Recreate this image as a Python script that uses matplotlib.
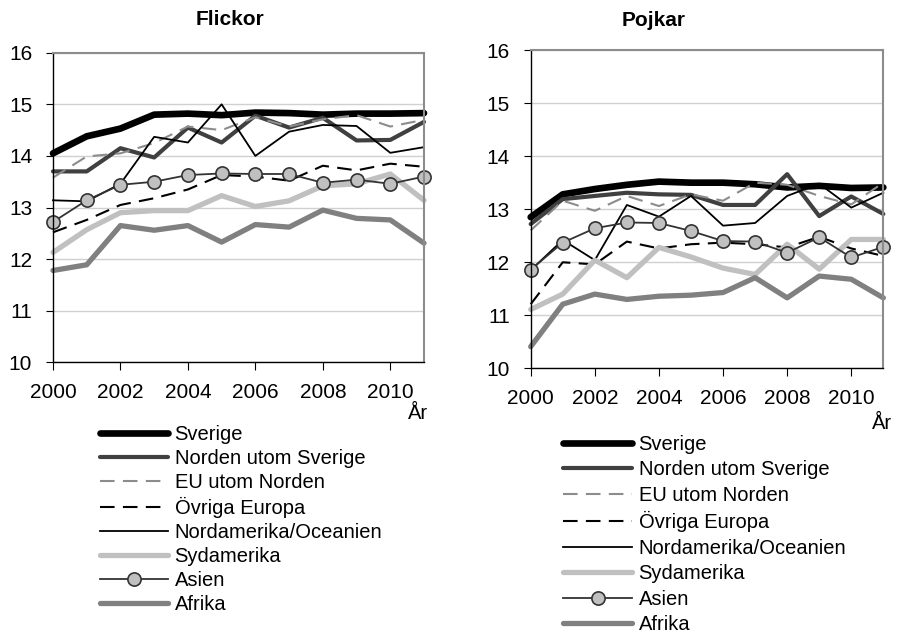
import numpy as np
import matplotlib
matplotlib.use("Agg")
import matplotlib.pyplot as plt

plt.rcParams['font.family'] = ['Liberation Sans', 'DejaVu Sans']

years = np.arange(2000, 2012)
series_names = ["Sverige", "Norden utom Sverige", "EU utom Norden", "Övriga Europa",
                "Nordamerika/Oceanien", "Sydamerika", "Asien", "Afrika"]

# Flickor
flickor_sverige = [14.05, 14.38, 14.53, 14.80, 14.82, 14.79, 14.84, 14.83, 14.80, 14.82, 14.82, 14.83]
flickor_norden = [13.70, 13.70, 14.15, 13.97, 14.55, 14.26, 14.78, 14.55, 14.74, 14.30, 14.31, 14.66]
flickor_eu = [13.58, 13.99, 14.05, 14.25, 14.57, 14.50, 14.75, 14.57, 14.71, 14.79, 14.57, 14.70]
flickor_ovriga = [12.52, 12.76, 13.05, 13.18, 13.35, 13.63, 13.60, 13.52, 13.81, 13.72, 13.85, 13.79]
flickor_nordam = [13.14, 13.12, 13.46, 14.37, 14.26, 15.00, 14.00, 14.47, 14.60, 14.58, 14.06, 14.17]
flickor_sydam = [12.13, 12.57, 12.90, 12.94, 12.94, 13.23, 13.02, 13.13, 13.42, 13.46, 13.65, 13.14]
flickor_asien = [12.72, 13.14, 13.44, 13.50, 13.63, 13.66, 13.65, 13.65, 13.48, 13.54, 13.46, 13.60]
flickor_afrika = [11.78, 11.89, 12.65, 12.56, 12.65, 12.33, 12.67, 12.62, 12.95, 12.79, 12.76, 12.31]

# Pojkar
pojkar_sverige = [12.85, 13.28, 13.38, 13.46, 13.52, 13.50, 13.50, 13.47, 13.41, 13.44, 13.40, 13.41]
pojkar_norden = [12.72, 13.19, 13.25, 13.31, 13.28, 13.27, 13.08, 13.08, 13.66, 12.87, 13.24, 12.91]
pojkar_eu = [12.60, 13.16, 12.97, 13.25, 13.06, 13.28, 13.16, 13.50, 13.46, 13.25, 13.09, 13.50]
pojkar_ovriga = [11.21, 12.00, 11.96, 12.39, 12.26, 12.34, 12.37, 12.34, 12.28, 12.48, 12.26, 12.12]
pojkar_nordam = [11.85, 12.42, 12.04, 13.08, 12.86, 13.25, 12.69, 12.74, 13.25, 13.48, 13.03, 13.31]
pojkar_sydam = [11.11, 11.40, 12.04, 11.71, 12.28, 12.10, 11.89, 11.77, 12.34, 11.87, 12.43, 12.43]
pojkar_asien = [11.86, 12.37, 12.64, 12.75, 12.74, 12.59, 12.40, 12.39, 12.18, 12.47, 12.09, 12.29]
pojkar_afrika = [10.41, 11.21, 11.40, 11.30, 11.36, 11.38, 11.43, 11.71, 11.33, 11.74, 11.68, 11.33]

flickor = [flickor_sverige, flickor_norden, flickor_eu, flickor_ovriga,
           flickor_nordam, flickor_sydam, flickor_asien, flickor_afrika]
pojkar = [pojkar_sverige, pojkar_norden, pojkar_eu, pojkar_ovriga,
          pojkar_nordam, pojkar_sydam, pojkar_asien, pojkar_afrika]

styles = [
    dict(color="black", lw=4.8, solid_capstyle="round"),
    dict(color="#404040", lw=3.0, solid_capstyle="round"),
    dict(color="#8c8c8c", lw=1.5, dashes=(7, 4)),
    dict(color="black", lw=1.5, dashes=(7, 4)),
    dict(color="black", lw=1.3),
    dict(color="#c0c0c0", lw=3.8, solid_capstyle="round"),
    dict(color="#333333", lw=1.3, marker="o", markersize=9.5,
         markerfacecolor="#c0c0c0", markeredgecolor="#333333", markeredgewidth=1.2),
    dict(color="#808080", lw=3.8, solid_capstyle="round"),
]


def draw_panel(ax, data, title, title_xy, ar_xy, leg_anchor, leg_spacing, handle_len):
    for values, name, st in zip(data, series_names, styles):
        ax.plot(years, values, label=name, clip_on=False, **st)
    ax.set_xlim(2000, 2011)
    ax.set_ylim(10, 16)
    ax.set_xticks(range(2000, 2011, 2))
    ax.set_yticks(range(10, 17))
    ax.yaxis.grid(True, color="#d0d0d0", lw=1.0)
    ax.set_axisbelow(True)
    for s in ["top", "right"]:
        ax.spines[s].set_color("#8c8c8c")
        ax.spines[s].set_linewidth(1.5)
    ax.spines["left"].set_linewidth(1.0)
    ax.spines["bottom"].set_linewidth(1.0)
    ax.tick_params(axis="y", direction="out", length=5, pad=10, labelsize=15)
    ax.tick_params(axis="x", direction="out", length=6, pad=9, labelsize=15)
    fig.text(title_xy[0], title_xy[1], title, ha="center", va="center", fontsize=15, fontweight="bold")
    fig.text(ar_xy[0], ar_xy[1], "År", ha="center", va="center", fontsize=14.5)
    ax.legend(loc="upper left", bbox_to_anchor=leg_anchor, bbox_transform=fig.transFigure,
              frameon=False, fontsize=14.5, handlelength=handle_len, handletextpad=0.3,
              labelspacing=leg_spacing, borderpad=0, borderaxespad=0)


fig = plt.figure(figsize=(9.01, 6.33), dpi=100)
ax1 = fig.add_axes([0.0588, 0.4276, 0.4118, 0.4891])
ax2 = fig.add_axes([0.589, 0.418, 0.3914, 0.503])

draw_panel(ax1, flickor, "Flickor", (230 / 901, 0.969), (0.464, 0.347),
           (100 / 901, 1 - 425 / 633), 0.25, 3.4)
draw_panel(ax2, pojkar, "Pojkar", (654 / 901, 0.967), (0.979, 0.331),
           (563 / 901, 1 - 435 / 633), 0.32, 3.45)

fig.savefig("out.png", dpi=100)
